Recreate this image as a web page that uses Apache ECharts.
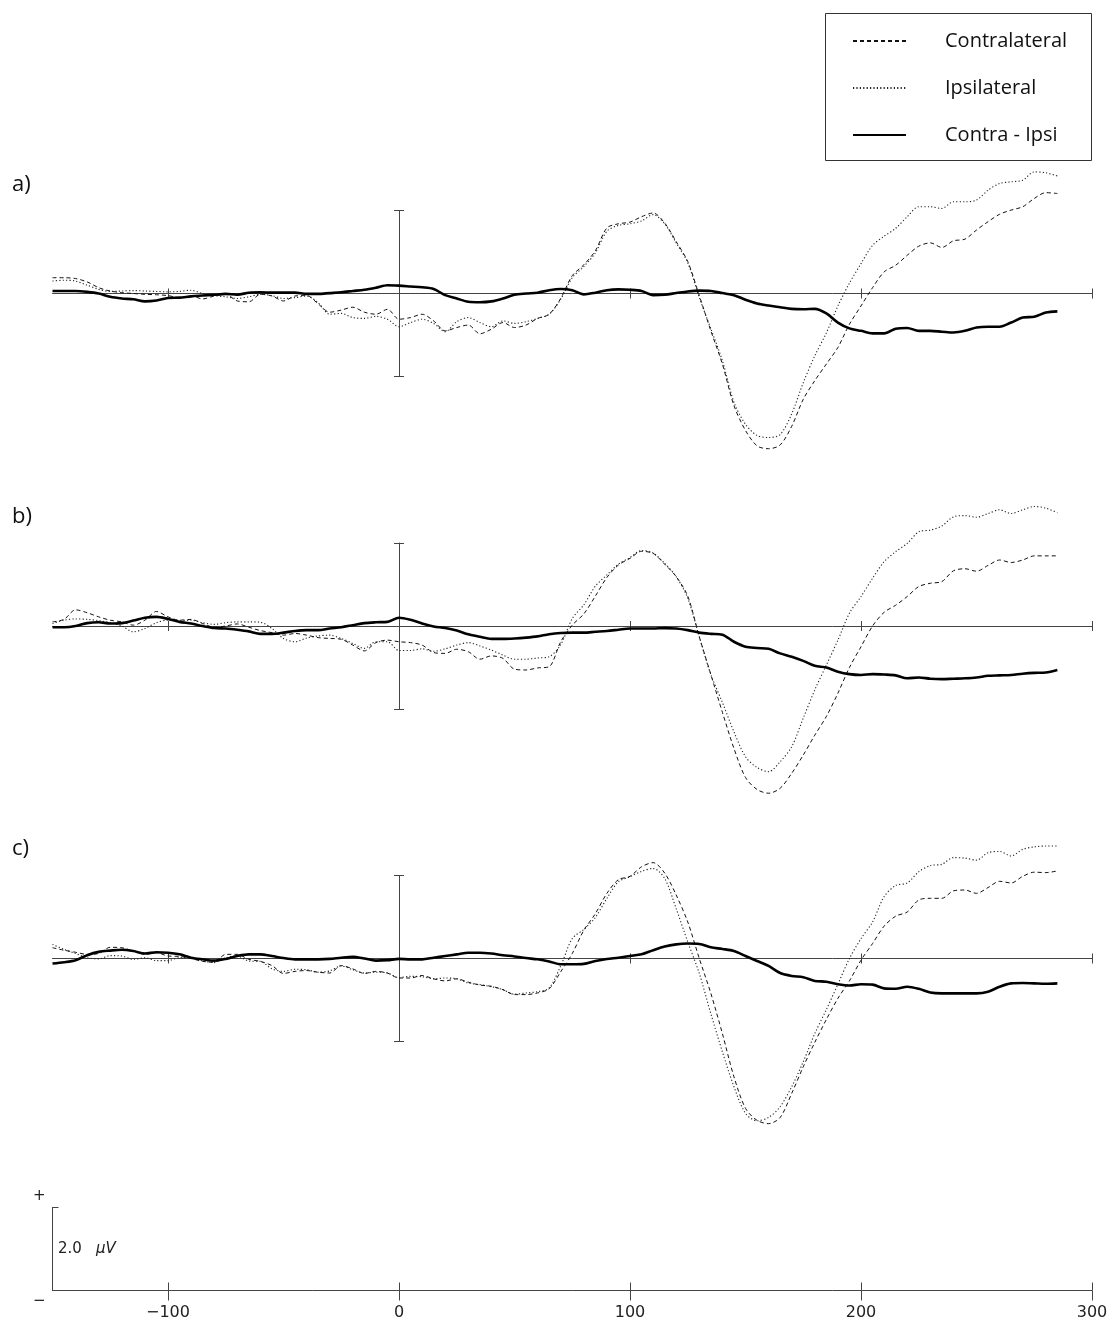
<!DOCTYPE html>
<html>
<head>
<meta charset="utf-8">
<script src="https://cdn.jsdelivr.net/npm/echarts@6/dist/echarts.min.js"></script>
<style>
html,body{margin:0;padding:0;background:#fff;}
#chart{width:1112px;height:1322px;}
</style>
</head>
<body>
<div id="chart"></div>
<script>
// time points (ms)
const times = [-150,-145,-140,-135,-130,-125,-120,-115,-110,-105,
  -100,-95,-90,-85,-80,-75,-70,-65,-60,-55,
  -50,-45,-40,-35,-30,-25,-20,-15,-10,-5,
  0,5,10,15,20,25,30,35,40,45,
  50,55,60,65,70,75,80,85,90,95,
  100,105,110,115,120,125,130,135,140,145,
  150,155,160,165,170,175,180,185,190,195,
  200,205,210,215,220,225,230,235,240,245,
  250,255,260,265,270,275,280,285];

const xTicks = [-100, 0, 100, 200, 300];
const panelTicks = [-100, 100, 200, 300];
const seriesNames = ['Contralateral', 'Ipsilateral', 'Contra - Ipsi'];
const panelLabels = ['a)', 'b)', 'c)'];

// panel a (µV)
const contraA = [0.38,0.38,0.36,0.28,0.14,0.06,0.02,0.0,-0.02,-0.03,
  -0.05,-0.1,-0.06,-0.13,-0.06,-0.02,-0.18,-0.2,-0.02,-0.06,
  -0.18,-0.06,-0.05,-0.25,-0.45,-0.4,-0.33,-0.45,-0.5,-0.38,
  -0.62,-0.58,-0.5,-0.66,-0.9,-0.82,-0.76,-0.97,-0.86,-0.7,
  -0.82,-0.76,-0.6,-0.5,-0.12,0.43,0.69,1.03,1.58,1.68,
  1.72,1.85,1.94,1.7,1.25,0.77,-0.05,-0.9,-1.7,-2.7,
  -3.3,-3.67,-3.74,-3.65,-3.2,-2.55,-2.1,-1.7,-1.3,-0.74,
  -0.3,0.14,0.52,0.68,0.92,1.14,1.22,1.11,1.27,1.31,
  1.53,1.73,1.91,2.01,2.09,2.29,2.43,2.41];
const ipsiA = [0.3,0.32,0.3,0.2,0.1,0.05,0.06,0.07,0.06,0.05,
  0.04,0.05,0.08,0.0,-0.05,-0.08,-0.12,-0.08,-0.02,-0.05,
  -0.12,-0.1,-0.06,-0.22,-0.5,-0.48,-0.58,-0.6,-0.55,-0.62,
  -0.8,-0.7,-0.62,-0.72,-0.92,-0.68,-0.58,-0.7,-0.8,-0.66,
  -0.72,-0.68,-0.6,-0.5,-0.14,0.38,0.65,0.98,1.5,1.64,
  1.68,1.75,1.9,1.68,1.22,0.74,-0.1,-0.85,-1.62,-2.62,
  -3.15,-3.42,-3.47,-3.4,-2.9,-2.15,-1.5,-0.95,-0.3,0.25,
  0.72,1.16,1.38,1.57,1.85,2.09,2.09,2.05,2.21,2.21,
  2.25,2.49,2.65,2.69,2.73,2.93,2.91,2.83];
const diffA = [0.06,0.06,0.06,0.04,0.0,-0.08,-0.12,-0.14,-0.19,-0.17,
  -0.11,-0.1,-0.07,-0.05,-0.03,-0.01,-0.03,0.02,0.03,0.02,
  0.02,0.02,-0.01,-0.01,0.01,0.03,0.06,0.09,0.14,0.2,
  0.19,0.17,0.15,0.11,-0.04,-0.12,-0.2,-0.21,-0.19,-0.12,
  -0.03,0.0,0.02,0.08,0.11,0.08,-0.02,0.02,0.08,0.1,
  0.09,0.06,-0.04,-0.03,0.01,0.05,0.07,0.06,0.01,-0.04,
  -0.15,-0.24,-0.29,-0.33,-0.37,-0.38,-0.37,-0.48,-0.7,-0.84,
  -0.9,-0.96,-0.96,-0.85,-0.83,-0.9,-0.9,-0.92,-0.94,-0.9,
  -0.82,-0.8,-0.8,-0.7,-0.58,-0.56,-0.46,-0.43];

// panel b (µV)
const contraB = [0.1,0.16,0.39,0.32,0.22,0.14,0.1,0.02,0.14,0.35,
  0.22,0.14,0.16,0.06,-0.03,0.0,0.05,-0.03,-0.11,-0.16,
  -0.22,-0.18,-0.22,-0.28,-0.3,-0.32,-0.46,-0.6,-0.4,-0.34,
  -0.38,-0.4,-0.46,-0.64,-0.66,-0.56,-0.62,-0.8,-0.72,-0.78,
  -1.04,-1.06,-1.01,-0.98,-0.38,0.02,0.29,0.72,1.17,1.47,
  1.63,1.8,1.75,1.49,1.19,0.72,-0.26,-1.17,-2.08,-2.95,
  -3.65,-3.94,-4.03,-3.91,-3.55,-3.11,-2.63,-2.18,-1.62,-1.0,
  -0.5,0.0,0.33,0.5,0.71,0.95,1.03,1.07,1.33,1.38,
  1.32,1.46,1.59,1.53,1.59,1.69,1.69,1.69];
const ipsiB = [0.06,0.14,0.17,0.16,0.13,0.08,0.0,-0.14,-0.06,0.08,
  0.14,0.12,0.14,0.08,0.04,0.08,0.1,0.1,0.09,-0.06,
  -0.3,-0.38,-0.29,-0.24,-0.22,-0.3,-0.42,-0.54,-0.38,-0.38,
  -0.59,-0.59,-0.55,-0.61,-0.55,-0.46,-0.4,-0.48,-0.58,-0.7,
  -0.8,-0.8,-0.77,-0.74,-0.45,0.18,0.51,0.96,1.23,1.49,
  1.65,1.82,1.76,1.51,1.19,0.67,-0.26,-1.17,-1.84,-2.55,
  -3.15,-3.41,-3.51,-3.27,-2.91,-2.22,-1.54,-0.94,-0.34,0.31,
  0.71,1.15,1.55,1.79,1.99,2.27,2.31,2.41,2.63,2.66,
  2.62,2.71,2.8,2.71,2.8,2.88,2.84,2.73];
const diffB = [-0.03,-0.03,0.0,0.07,0.09,0.06,0.07,0.13,0.2,0.22,
  0.17,0.1,0.06,0.0,-0.05,-0.06,-0.09,-0.13,-0.19,-0.19,
  -0.16,-0.12,-0.1,-0.1,-0.06,-0.03,0.02,0.07,0.09,0.1,
  0.2,0.15,0.06,-0.01,-0.05,-0.11,-0.2,-0.26,-0.31,-0.31,
  -0.3,-0.28,-0.25,-0.2,-0.17,-0.16,-0.16,-0.14,-0.12,-0.09,
  -0.06,-0.06,-0.06,-0.05,-0.06,-0.1,-0.16,-0.19,-0.21,-0.38,
  -0.5,-0.53,-0.55,-0.66,-0.74,-0.84,-0.96,-1.0,-1.1,-1.16,
  -1.18,-1.16,-1.17,-1.19,-1.26,-1.24,-1.27,-1.28,-1.27,-1.26,
  -1.24,-1.2,-1.19,-1.18,-1.15,-1.13,-1.12,-1.06];

// panel c (µV)
const contraC = [0.26,0.2,0.15,0.1,0.12,0.27,0.26,0.18,0.1,0.14,
  0.06,0.05,0.0,-0.07,-0.09,0.1,0.1,-0.02,-0.07,-0.17,
  -0.36,-0.31,-0.29,-0.33,-0.35,-0.17,-0.25,-0.36,-0.31,-0.35,
  -0.47,-0.47,-0.41,-0.49,-0.54,-0.49,-0.57,-0.64,-0.67,-0.75,
  -0.87,-0.87,-0.83,-0.73,-0.32,0.12,0.68,1.08,1.57,1.9,
  1.98,2.21,2.31,2.06,1.53,0.88,0.0,-0.84,-1.81,-2.85,
  -3.61,-3.9,-3.98,-3.83,-3.25,-2.61,-2.02,-1.47,-0.96,-0.54,
  -0.04,0.36,0.78,1.02,1.12,1.41,1.45,1.45,1.63,1.65,
  1.57,1.71,1.86,1.82,1.98,2.08,2.07,2.11];
const ipsiC = [0.34,0.22,0.12,0.02,-0.01,0.07,0.06,-0.02,0.02,-0.05,
  -0.05,0.02,0.02,-0.06,-0.1,0.02,0.06,-0.06,-0.07,-0.25,
  -0.31,-0.26,-0.27,-0.33,-0.3,-0.18,-0.27,-0.35,-0.33,-0.35,
  -0.46,-0.43,-0.44,-0.49,-0.47,-0.49,-0.59,-0.63,-0.68,-0.75,
  -0.86,-0.83,-0.8,-0.71,-0.18,0.48,0.7,0.99,1.45,1.85,
  1.97,2.1,2.17,1.93,1.2,0.4,-0.36,-1.33,-2.25,-3.09,
  -3.73,-3.91,-3.83,-3.57,-3.09,-2.49,-1.81,-1.23,-0.62,0.0,
  0.48,0.88,1.49,1.76,1.82,2.09,2.24,2.27,2.43,2.42,
  2.37,2.55,2.58,2.47,2.63,2.69,2.71,2.71];
const diffC = [-0.12,-0.09,-0.04,0.08,0.16,0.19,0.21,0.18,0.12,0.15,
  0.14,0.1,0.02,-0.02,-0.05,-0.01,0.06,0.1,0.1,0.06,
  0.01,-0.02,-0.02,-0.02,-0.01,0.02,0.04,0.0,-0.05,-0.04,
  -0.01,-0.02,-0.02,0.02,0.06,0.1,0.14,0.14,0.12,0.08,
  0.05,0.01,-0.02,-0.07,-0.14,-0.14,-0.13,-0.06,-0.01,0.02,
  0.06,0.1,0.2,0.29,0.34,0.36,0.35,0.27,0.23,0.18,
  0.06,-0.06,-0.18,-0.35,-0.42,-0.45,-0.54,-0.56,-0.62,-0.65,
  -0.62,-0.63,-0.72,-0.73,-0.68,-0.73,-0.82,-0.84,-0.84,-0.84,
  -0.84,-0.8,-0.68,-0.6,-0.59,-0.6,-0.61,-0.6];

const panels = [
  [contraA, ipsiA, diffA],
  [contraB, ipsiB, diffB],
  [contraC, ipsiC, diffC]
];

// ---------- layout ----------
const PX = 41.5;              // pixels per µV
const LEFT = 52.5, RIGHT = 20;
const baselines = [293.5, 626, 958.5];
const Y_MIN = -4.5, Y_MAX = 3.5;
const AXIS_COLOR = '#444';

const grids = [], xAxes = [], yAxes = [], series = [];

function addGrid(g){ grids.push(g); return grids.length - 1; }

const lineStyles = [
  {color:'#111', width:1, type:[4,3]},
  {color:'#222', width:1.1, type:[1.2,2.2]},
  {color:'#000', width:2.6, type:'solid'}
];

baselines.forEach((b, p) => {
  const gi = addGrid({left: LEFT, right: RIGHT, top: b - Y_MAX*PX, height: (Y_MAX - Y_MIN)*PX});
  xAxes.push({gridIndex: gi, type:'value', min:-150, max:300,
    axisLine:{show:true, onZero:true, lineStyle:{color:AXIS_COLOR, width:1}},
    axisTick:{show:false}, axisLabel:{show:false}, splitLine:{show:false}});
  yAxes.push({gridIndex: gi, type:'value', min:Y_MIN, max:Y_MAX, show:false});
  panels[p].forEach((vals, k) => {
    series.push({
      name: seriesNames[k], type:'line', xAxisIndex: gi, yAxisIndex: gi,
      data: times.map((t, i) => [t, vals[i]]),
      symbol:'none', showSymbol:false, smooth:0.3, silent:true,
      itemStyle:{color: lineStyles[k].color, opacity:0},
      lineStyle: lineStyles[k], z: k === 2 ? 4 : 3
    });
  });
});

// crossing ticks on each panel baseline
baselines.forEach(b => {
  const gi = addGrid({left: LEFT, right: RIGHT, top: b - 5, height: 10});
  xAxes.push({gridIndex: gi, type:'value', min:-150, max:300, position:'bottom',
    axisLine:{show:false, onZero:false},
    axisTick:{show:true, inside:true, length:10, customValues: panelTicks, lineStyle:{color:AXIS_COLOR}},
    axisLabel:{show:false}, splitLine:{show:false}});
  yAxes.push({gridIndex: gi, type:'value', min:0, max:1, show:false});
});

// ±2 µV calibration bar at t = 0
baselines.forEach(b => {
  const gi = addGrid({left: 394, width: 10, top: b - 2*PX, height: 4*PX});
  xAxes.push({gridIndex: gi, type:'value', min:-1, max:1, show:false});
  yAxes.push({gridIndex: gi, type:'value', min:0, max:4, interval:4,
    axisLine:{show:true, onZero:true, lineStyle:{color:AXIS_COLOR, width:1}},
    axisTick:{show:false}, axisLabel:{show:false},
    splitLine:{show:true, lineStyle:{color:AXIS_COLOR, width:1}}});
});

// bottom time axis + 2 µV scale
const bottomBase = 1290.5;
const gb = addGrid({left: LEFT, right: RIGHT, top: bottomBase - 2*PX, height: 2*PX});
xAxes.push({gridIndex: gb, type:'value', min:-150, max:300, position:'bottom',
  axisLine:{show:true, onZero:false, lineStyle:{color:AXIS_COLOR, width:1}},
  axisTick:{show:true, length:10, customValues: xTicks, lineStyle:{color:AXIS_COLOR}},
  axisLabel:{show:true, customValues: xTicks, margin:14, color:'#222',
    fontFamily:'DejaVu Sans', fontSize:16,
    formatter: v => v < 0 ? '\u2212' + Math.abs(v) : String(v)},
  splitLine:{show:false}});
yAxes.push({gridIndex: gb, type:'value', min:0, max:2,
  axisLine:{show:true, onZero:false, lineStyle:{color:AXIS_COLOR, width:1}},
  axisTick:{show:true, inside:true, length:6, customValues:[2], lineStyle:{color:AXIS_COLOR}},
  axisLabel:{show:false}, splitLine:{show:false}});
const gb2 = addGrid({left: LEFT, right: RIGHT, top: bottomBase - 8, height: 8});
xAxes.push({gridIndex: gb2, type:'value', min:-150, max:300, position:'bottom',
  axisLine:{show:false, onZero:false},
  axisTick:{show:true, inside:true, length:8, customValues: xTicks, lineStyle:{color:AXIS_COLOR}},
  axisLabel:{show:false}, splitLine:{show:false}});
yAxes.push({gridIndex: gb2, type:'value', min:0, max:1, show:false});

const labelFont = {fontFamily:'Open Sans', fontSize:22, fill:'#111'};
const graphics = [
  {type:'rect', shape:{x:825.5, y:13.5, width:266, height:147},
   style:{fill:'none', stroke:'#333', lineWidth:1}, silent:true},
  {type:'text', left:12, top:174, style:Object.assign({text:panelLabels[0]}, labelFont)},
  {type:'text', left:12, top:506, style:Object.assign({text:panelLabels[1]}, labelFont)},
  {type:'text', left:12, top:838, style:Object.assign({text:panelLabels[2]}, labelFont)},
  {type:'text', left:33, top:1189, style:{text:'+', fontFamily:'DejaVu Sans', fontSize:15, fill:'#222'}},
  {type:'text', left:33, top:1294, style:{text:'\u2212', fontFamily:'DejaVu Sans', fontSize:15, fill:'#222'}},
  {type:'text', left:58, top:1242, style:{text:'2.0', fontFamily:'DejaVu Sans', fontSize:15, fill:'#222'}},
  {type:'text', left:96, top:1242, style:{text:'\u03BCV', fontFamily:'DejaVu Sans', fontSize:15, fontStyle:'italic', fill:'#222'}}
];

const chart = echarts.init(document.getElementById('chart'), null, {renderer:'canvas'});
chart.setOption({
  animation:false,
  backgroundColor:'#fff',
  grid: grids,
  xAxis: xAxes,
  yAxis: yAxes,
  legend:{
    data: seriesNames, orient:'vertical', left:852, top:30, padding:0,
    itemWidth:53, itemHeight:14, itemGap:25, selectedMode:false,
    itemStyle:{opacity:0},
    textStyle:{fontFamily:'Open Sans', fontSize:20, color:'#111', lineHeight:22, padding:[0,0,0,34]}
  },
  series: series,
  graphic: graphics
});
</script>
</body>
</html>
